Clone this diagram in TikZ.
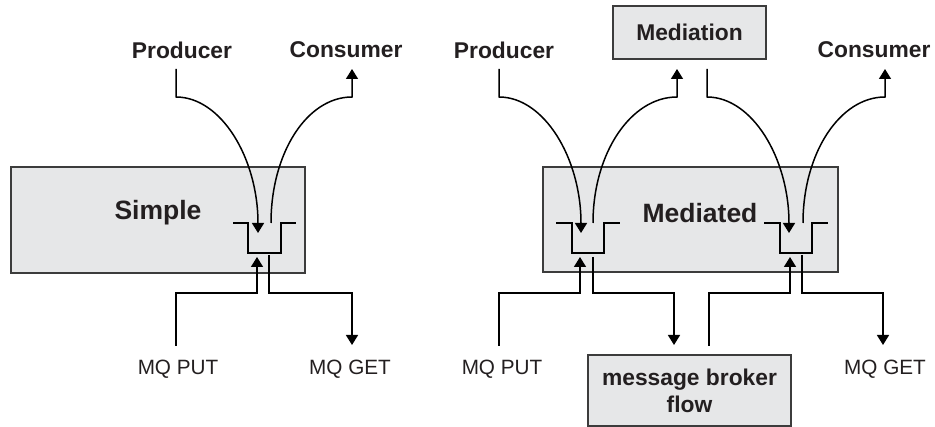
\documentclass[tikz,border=0pt]{standalone}
\usepackage{fontspec}
\setmainfont{Liberation Sans}
\usetikzlibrary{arrows.meta}
\definecolor{boxfill}{HTML}{E6E7E8}
\definecolor{boxline}{HTML}{3C3C3C}
\definecolor{ink}{HTML}{231F20}
\tikzset{
  box/.style={draw=boxline, fill=boxfill, line width=2pt, inner sep=0pt},
  biglabel/.style={text=ink, font=\fontsize{26.5}{30}\selectfont\bfseries, inner sep=0pt},
  actor/.style={text=ink, font=\fontsize{22.8}{27}\selectfont\bfseries, inner sep=0pt, align=center},
  apilabel/.style={text=ink, font=\fontsize{20.7}{24}\selectfont, inner sep=0pt},
  flow/.style={line width=1.5pt, draw=black},
  arr/.style={flow, -{Triangle[length=10pt,width=12pt]}},
  queue/.style={line width=2.3pt, draw=black, line join=miter},
}
\begin{document}
\begin{tikzpicture}[x=1pt,y=-1pt]
\useasboundingbox (0,0) rectangle (935,427);

% ---------- boxes ----------
\node[box, minimum width=294pt, minimum height=106pt] (simple) at (158,220) {};
\node[biglabel] (simpletxt) at (158,213) {Simple};
\node[box, minimum width=295pt, minimum height=105pt] (mediated) at (690.5,219.5) {};
\node[biglabel] (mediatedtxt) at (700,213) {Mediated};
\node[box, minimum width=153pt, minimum height=53pt, actor] (mediation) at (689.5,32.5) {Mediation};
\node[box, minimum width=203pt, minimum height=71pt, actor] (broker) at (689.5,390.5) {message broker\\flow};

% ---------- labels ----------
\node[actor] (prodA) at (182,50) {Producer};
\node[actor] (consA) at (346,50) {Consumer};
\node[actor] (prodB) at (504,50) {Producer};
\node[actor] (consB) at (874,50) {Consumer};
\node[apilabel] (putA) at (178,369) {MQ PUT};
\node[apilabel] (getA) at (350,369) {MQ GET};
\node[apilabel] (putB) at (502,369) {MQ PUT};
\node[apilabel] (getB) at (885,369) {MQ GET};

% ---------- queues ----------
\draw[queue] (233,223) -- (248,223) -- (248,253) -- (281,253) -- (281,223) -- (296,223);
\draw[queue] (556,223) -- (572,223) -- (572,253) -- (604,253) -- (604,223) -- (620,223);
\draw[queue] (764,223) -- (780,223) -- (780,253) -- (812,253) -- (812,223) -- (828,223);

% ---------- connection points ----------
\coordinate (pA0) at (176,69);  \coordinate (pA1) at (176,97);  \coordinate (qA1) at (258,233);
\coordinate (qA2) at (271,223); \coordinate (cA1) at (352,97);  \coordinate (cA0) at (352,69);
\coordinate (uA0) at (176,346); \coordinate (qA3) at (257,257);
\coordinate (qA4) at (269,255); \coordinate (gA0) at (352,345);

\coordinate (pB0) at (499,69);  \coordinate (pB1) at (499,97);  \coordinate (qB1) at (581,233);
\coordinate (qB2) at (593,223); \coordinate (mB1) at (677,97);  \coordinate (mB0) at (677,69);
\coordinate (nB0) at (707,69);  \coordinate (nB1) at (707,97);  \coordinate (qC1) at (789,233);
\coordinate (qC2) at (803,223); \coordinate (cB1) at (885,97);  \coordinate (cB0) at (885,69);
\coordinate (uB0) at (499,346); \coordinate (qB3) at (580,257);
\coordinate (qB4) at (593,257); \coordinate (bB0) at (674,345);
\coordinate (bB1) at (709,346); \coordinate (qC3) at (790,257);
\coordinate (qC4) at (802,255); \coordinate (gB0) at (883,345);

% ---------- simple flows ----------
\draw[arr] (pA0) -- (pA1) .. controls (221,97) and (258,158) .. (qA1);
\draw[arr] (qA2) .. controls (271,153) and (307,97) .. (cA1) -- (cA0);
\draw[arr] (uA0) |- (216,293) -| (qA3);
\draw[arr] (qA4) |- (310,293) -| (gA0);

% ---------- mediated flows ----------
\draw[arr] (pB0) -- (pB1) .. controls (544,97) and (581,158) .. (qB1);
\draw[arr] (qB2) .. controls (593,153) and (631,97) .. (mB1) -- (mB0);
\draw[arr] (nB0) -- (nB1) .. controls (752,97) and (789,158) .. (qC1);
\draw[arr] (qC2) .. controls (803,153) and (840,97) .. (cB1) -- (cB0);
\draw[arr] (uB0) |- (540,293) -| (qB3);
\draw[arr] (qB4) |- (630,293) -| (bB0);
\draw[arr] (bB1) |- (750,293) -| (qC3);
\draw[arr] (qC4) |- (840,293) -| (gB0);
\end{tikzpicture}
\end{document}
